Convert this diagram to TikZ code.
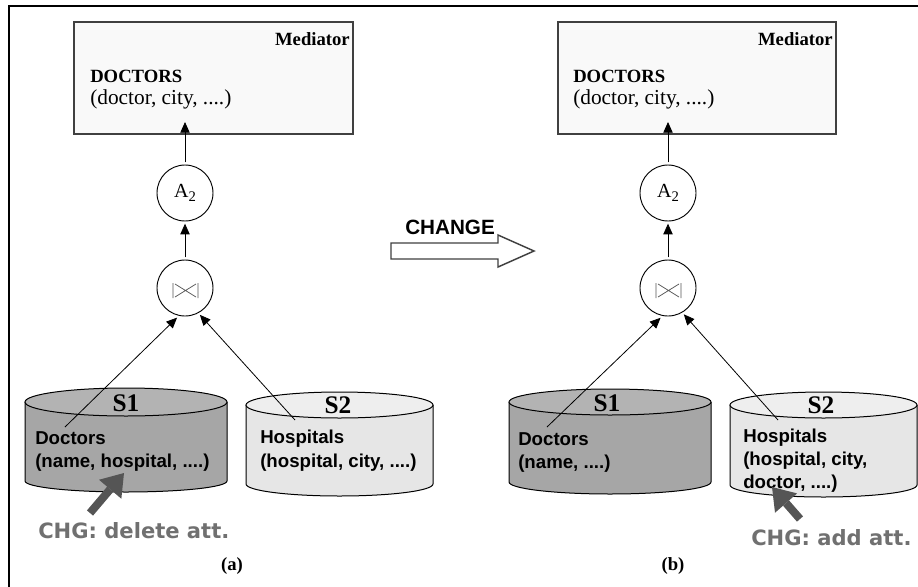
\documentclass[tikz,border=0pt]{standalone}
\usepackage{fontspec}
\setmainfont{Liberation Serif}
\newfontfamily\arialf{Liberation Sans}
\newfontfamily\dejavuf{DejaVu Sans}
\usetikzlibrary{arrows.meta}
\definecolor{boxfill}{HTML}{F9F9F9}
\definecolor{boxline}{HTML}{404040}
\definecolor{darkdb}{HTML}{A6A6A6}
\definecolor{darkdbtop}{HTML}{B3B3B3}
\definecolor{lightdb}{HTML}{E6E6E6}
\definecolor{lightdbtop}{HTML}{EEEEEE}
\definecolor{chgarrow}{HTML}{555555}
\definecolor{chgtext}{HTML}{707070}
\definecolor{symgray}{HTML}{555555}

% #1 x1, #2 x2, #3 ytop, #4 ry top, #5 ybot, #6 ry bottom, #7 body colour, #8 top colour
\newcommand\dbcyl[8]{%
  \pgfmathsetmacro\dbcx{(#1+#2)/2}%
  \pgfmathsetmacro\dbrx{(#2-#1)/2}%
  \pgfmathsetmacro\dbkx{0.5523*\dbrx}%
  \pgfmathsetmacro\dbky{0.5523*#6}%
  \pgfmathsetmacro\dbyl{#5+#6}%
  \pgfmathsetmacro\dbyk{#5+\dbky}%
  \filldraw[draw=black, line width=0.75pt, fill=#7]
    (#1,#3) -- (#1,#5) .. controls (#1,\dbyk) and (\dbcx-\dbkx,\dbyl) .. (\dbcx,\dbyl)
    .. controls (\dbcx+\dbkx,\dbyl) and (#2,\dbyk) .. (#2,#5) -- (#2,#3);
  \filldraw[draw=black, line width=0.75pt, fill=#8] (\dbcx,#3) ellipse [x radius=\dbrx, y radius=#4];
}
\newcommand\joinsym{%
  \draw[symgray, line width=0.55pt] (-12,-5) -- (-12,10) (13,-5) -- (13,10)
    (-10,-4) -- (11,9) (-10,9) -- (11,-4);
}

\tikzset{
  mbox/.style={draw=boxline, fill=boxfill, line width=0.8pt, minimum height=84pt, inner sep=0pt},
  opnode/.style={draw=black, circle, line width=0.7pt, minimum size=42pt, inner sep=0pt, outer sep=2pt},
  arr/.style={-{Triangle[length=8pt,width=7pt]}, line width=0.6pt, draw=black},
  bigarr/.style={line width=6pt, draw=chgarrow, -{Triangle[length=16pt,width=22pt,line width=0pt]}},
  txt/.style={inner sep=0pt, anchor=base west},
  medt/.style={txt, font=\bfseries\fontsize{14}{14}\selectfont},
  relt/.style={txt, font=\fontsize{16}{16}\selectfont},
  srct/.style={txt, font=\arialf\bfseries\fontsize{14}{14}\selectfont},
  slab/.style={inner sep=0pt, anchor=base, font=\bfseries\fontsize{19}{19}\selectfont},
  chgt/.style={txt, text=chgtext, font=\dejavuf\bfseries\fontsize{15.8}{15.8}\selectfont},
  capt/.style={inner sep=0pt, anchor=base, font=\bfseries\fontsize{14}{14}\selectfont},
}

\begin{document}
\begin{tikzpicture}[x=0.75pt, y=-0.75pt]
\useasboundingbox (0,0) rectangle (918,586);
\clip (0,0) rectangle (918,586);
\fill[white] (0,0) rectangle (918,586);
\draw[line width=0.9pt, black] (9,600) -- (9,6) -- (930,6);

% ---------------- left panel (a) ----------------
\node[mbox, minimum width=209.25pt] (medA) at (213.5,78) {};
\node[medt, anchor=base east] (medlabA) at (350,45) {Mediator};
\node[medt] (docA) at (90,82) {DOCTORS};
\node[relt] (docattA) at (90,104) {(doctor, city, ....)};

\node[opnode] (a2A) at (185,193) {\fontsize{15}{15}\selectfont A\raisebox{-0.45ex}{\fontsize{11}{11}\selectfont 2}};
\node[opnode] (joinA) at (185,288) {};
\begin{scope}[shift={(joinA)}] \joinsym \end{scope}

\dbcyl{25}{227}{402}{14}{481}{11}{darkdb}{darkdbtop}
\dbcyl{246}{433}{405}{13}{484}{12}{lightdb}{lightdbtop}
\node[slab] (s1labA) at (126,411) {S1};
\node[slab] (s2labA) at (338,413) {S2};
\node[srct] (s1nameA) at (35,444) {Doctors};
\node[srct] (s1attA) at (35,467) {(name, hospital, ....)};
\node[srct] (s2nameA) at (260,443) {Hospitals};
\node[srct] (s2attA) at (260,467) {(hospital, city, ....)};

\coordinate (medinA) at (185,122);
\coordinate (s1outA) at (65,427);
\coordinate (s2outA) at (295,420);
\draw[arr] (a2A) -- (medinA);
\draw[arr] (joinA) -- (a2A);
\draw[arr] (s1outA) -- (joinA.255);
\draw[arr] (s2outA) -- (joinA.299);

\coordinate (chgfromA) at (90,513);
\coordinate (chgtoA) at (124,473);
\draw[bigarr] (chgfromA) -- (chgtoA);
\node[chgt] (chglabA) at (38,538) {CHG: delete att.};
\node[capt] (capA) at (232,570) {(a)};

% ---------------- CHANGE arrow ----------------
\draw[draw=boxline, fill=white, line width=1.1pt]
  (391,243) -- (498,243) -- (498,235) -- (534,251) -- (498,267) -- (498,259) -- (391,259) -- cycle;
\node[txt, font=\arialf\bfseries\fontsize{15.5}{15.5}\selectfont] (changelab) at (405,234) {CHANGE};

% ---------------- right panel (b) ----------------
\node[mbox, minimum width=208.5pt] (medB) at (697,78) {};
\node[medt, anchor=base east] (medlabB) at (833,45) {Mediator};
\node[medt] (docB) at (573,82) {DOCTORS};
\node[relt] (docattB) at (573,104) {(doctor, city, ....)};

\node[opnode] (a2B) at (668,193) {\fontsize{15}{15}\selectfont A\raisebox{-0.45ex}{\fontsize{11}{11}\selectfont 2}};
\node[opnode] (joinB) at (668,288) {};
\begin{scope}[shift={(joinB)}] \joinsym \end{scope}

\dbcyl{509}{711}{402}{13}{482}{12}{darkdb}{darkdbtop}
\dbcyl{730}{917}{405}{13}{485}{12}{lightdb}{lightdbtop}
\node[slab] (s1labB) at (607,411) {S1};
\node[slab] (s2labB) at (821,413) {S2};
\node[srct] (s1nameB) at (518,445) {Doctors};
\node[srct] (s1attB) at (518,468) {(name, ....)};
\node[srct] (s2nameB) at (743,442) {Hospitals};
\node[srct] (s2attB) at (743,465) {(hospital, city,};
\node[srct] (s2att2B) at (743,488) {doctor, ....)};

\coordinate (medinB) at (668,122);
\coordinate (s1outB) at (547,427);
\coordinate (s2outB) at (778,420);
\draw[arr] (a2B) -- (medinB);
\draw[arr] (joinB) -- (a2B);
\draw[arr] (s1outB) -- (joinB.256);
\draw[arr] (s2outB) -- (joinB.301);

\coordinate (chgfromB) at (800,519);
\coordinate (chgtoB) at (772,487);
\draw[bigarr] (chgfromB) -- (chgtoB);
\node[chgt] (chglabB) at (751,545) {CHG: add att.};
\node[capt] (capB) at (673,570) {(b)};
\end{tikzpicture}
\end{document}
